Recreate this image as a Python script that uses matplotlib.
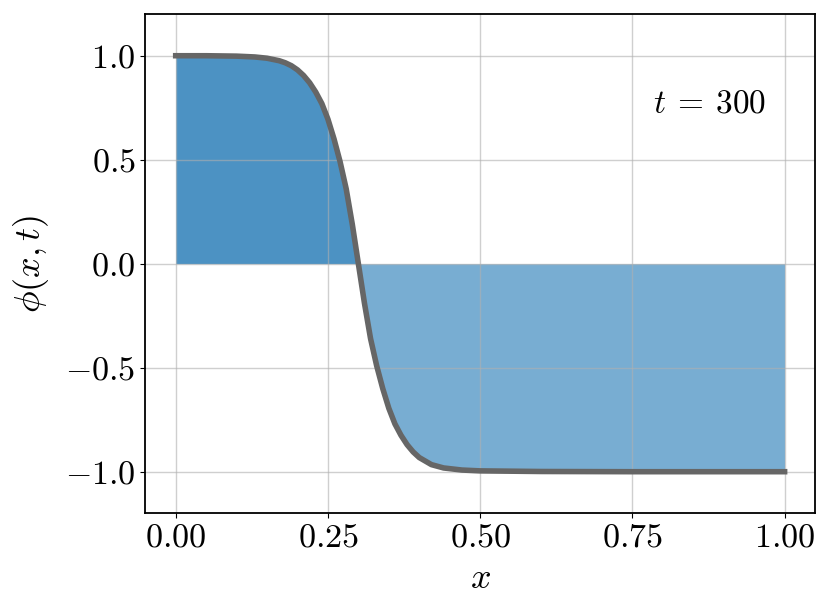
import numpy as np
import matplotlib
matplotlib.use('Agg')
import matplotlib.pyplot as plt

# profile
x = [0.0, 0.05, 0.10, 0.13, 0.15, 0.17, 0.18, 0.19, 0.20, 0.21, 0.22, 0.23,
     0.24, 0.25, 0.26, 0.27, 0.28, 0.29, 0.30, 0.31, 0.32, 0.33, 0.34,
     0.35, 0.36, 0.37, 0.38, 0.39, 0.40, 0.42, 0.44, 0.47, 0.50, 0.60,
     0.75, 1.0]
phi = [1.0, 1.0, 0.998, 0.994, 0.988, 0.976, 0.966, 0.952, 0.932, 0.905,
       0.87, 0.825, 0.77, 0.695, 0.60, 0.49, 0.36, 0.19, 0.0, -0.19,
       -0.36, -0.49, -0.60, -0.695, -0.77, -0.825, -0.87, -0.905, -0.932,
       -0.966, -0.982, -0.992, -0.996, -0.999, -1.0, -1.0]
xticks = [0.0, 0.25, 0.5, 0.75, 1.0]
yticks = [-1.0, -0.5, 0.0, 0.5, 1.0]
t_label = 300

plt.rcParams['font.family'] = 'serif'
plt.rcParams['font.serif'] = ['cmr10']
plt.rcParams['mathtext.fontset'] = 'cm'
plt.rcParams['axes.formatter.use_mathtext'] = True
plt.rcParams['font.size'] = 24.5

x = np.array(x)
phi = np.array(phi)

fig = plt.figure(figsize=(8.3, 6.14), dpi=100)
ax = fig.add_subplot(111)
fig.subplots_adjust(left=0.175, right=0.982, top=0.977, bottom=0.164)

ax.fill_between(x, phi, 0, where=phi >= 0, interpolate=True,
                color='C0', alpha=0.8, linewidth=0)
ax.fill_between(x, phi, 0, where=phi <= 0, interpolate=True,
                color='C0', alpha=0.6, linewidth=0)
ax.plot(x, phi, color='#666666', lw=4, zorder=3)

ax.set_xlim(-0.05, 1.05)
ax.set_ylim(-1.2, 1.2)
ax.set_xticks(xticks)
ax.set_yticks(yticks)
ax.xaxis.set_major_formatter(matplotlib.ticker.FormatStrFormatter('$%.2f$'))
ax.yaxis.set_major_formatter(matplotlib.ticker.FuncFormatter(
    lambda v, p: '$%.1f$' % v if v >= 0 else '$-%.1f$' % abs(v)))
ax.grid(True, color='#b0b0b0', lw=1, alpha=0.6, zorder=1.5)
ax.set_axisbelow('line')
for s in ax.spines.values():
    s.set_linewidth(1.3)
ax.set_xlabel('$x$', fontsize=26, labelpad=8)
ax.set_ylabel(r'$\phi(x,t)$', fontsize=26, labelpad=10)
ax.text(0.843, 0.82, r'$t\:=\:%d$' % t_label, transform=ax.transAxes,
        ha='center', va='center', fontsize=24)

plt.savefig('out.png')
